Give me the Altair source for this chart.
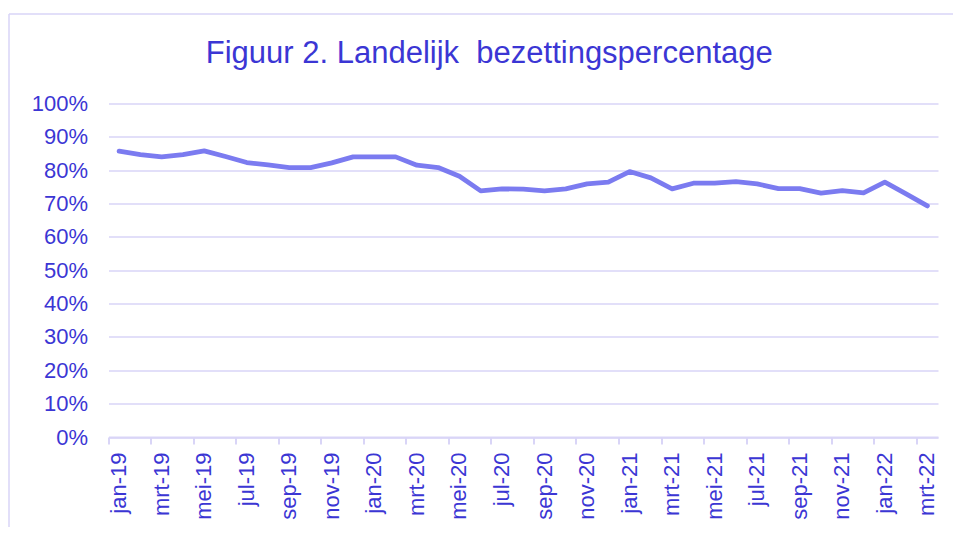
import altair as alt
import pandas as pd

months = ["jan", "feb", "mrt", "apr", "mei", "jun", "jul", "aug", "sep", "okt", "nov", "dec"]
labels = [f"{m}-{y}" for y in ["19", "20", "21"] for m in months] + ["jan-22", "feb-22", "mrt-22"]

values_pct = [
    85.7, 84.7, 84.0, 84.7, 85.8, 84.1, 82.3, 81.6, 80.8, 80.8, 82.2, 84.0,
    84.0, 84.0, 81.5, 80.8, 78.2, 73.8, 74.4, 74.3, 73.8, 74.4, 75.9, 76.4,
    79.6, 77.7, 74.4, 76.1, 76.1, 76.6, 75.9, 74.5, 74.5, 73.1, 73.9, 73.2,
    76.4, 72.9, 69.3,
]
tick_labels = labels[::2]
y_ticks = [i / 10 for i in range(11)]

title_text = "Figuur 2. Landelijk\u00a0 bezettingspercentage"

TEXT = "#3b36d4"
LINE = "#7b7bf0"
GRID = "#d9d5f7"
FONT = "Liberation Sans"

W, H = 829.5, 333.5

df = pd.DataFrame({"maand": labels, "waarde": [v / 100 for v in values_pct]})

line = alt.Chart(df).mark_line(
    color=LINE, strokeWidth=4.8, strokeCap="round", strokeJoin="round"
).encode(
    x=alt.X(
        "maand:N",
        sort=labels,
        scale=alt.Scale(type="band", paddingInner=0, paddingOuter=0),
        axis=alt.Axis(
            title=None,
            values=tick_labels,
            bandPosition=0,
            labelAngle=270,
            labelFontSize=22,
            labelColor=TEXT,
            labelFont=FONT,
            labelPadding=8,
            tickSize=7,
            tickColor=GRID,
            tickWidth=2,
            domainColor=GRID,
            domainWidth=2,
            grid=False,
            labelOverlap=False,
        ),
    ),
    y=alt.Y(
        "waarde:Q",
        scale=alt.Scale(domain=[0, 1], nice=False),
        axis=alt.Axis(
            title=None,
            values=y_ticks,
            format=".0%",
            labelFontSize=22,
            labelColor=TEXT,
            labelFont=FONT,
            labelPadding=21,
            ticks=False,
            domain=False,
            grid=True,
            gridColor=GRID,
            gridWidth=1.5,
        ),
    ),
)

one = pd.DataFrame({"a": [0]})
frame_left = alt.Chart(one).mark_rule(color=GRID, strokeWidth=1.5).encode(
    x=alt.value(-99.5), y=alt.value(-89.5), y2=alt.value(520)
)
frame_top = alt.Chart(one).mark_rule(color=GRID, strokeWidth=1.5).encode(
    x=alt.value(-99.5), x2=alt.value(900), y=alt.value(-89.5)
)

chart = alt.layer(frame_left, frame_top, line).properties(
    width=W,
    height=H,
    autosize=alt.AutoSizeParams(type="none"),
    padding={"left": 100.5, "top": 95.5, "right": 15, "bottom": 90},
    background="white",
    title=alt.TitleParams(
        title_text,
        fontSize=31,
        font=FONT,
        fontWeight="normal",
        color=TEXT,
        anchor="middle",
        dx=-34,
        dy=56.5,
        offset=0,
    ),
).configure_view(stroke=None)

chart.save("out.html", embed_options={"renderer": "svg", "actions": False})
